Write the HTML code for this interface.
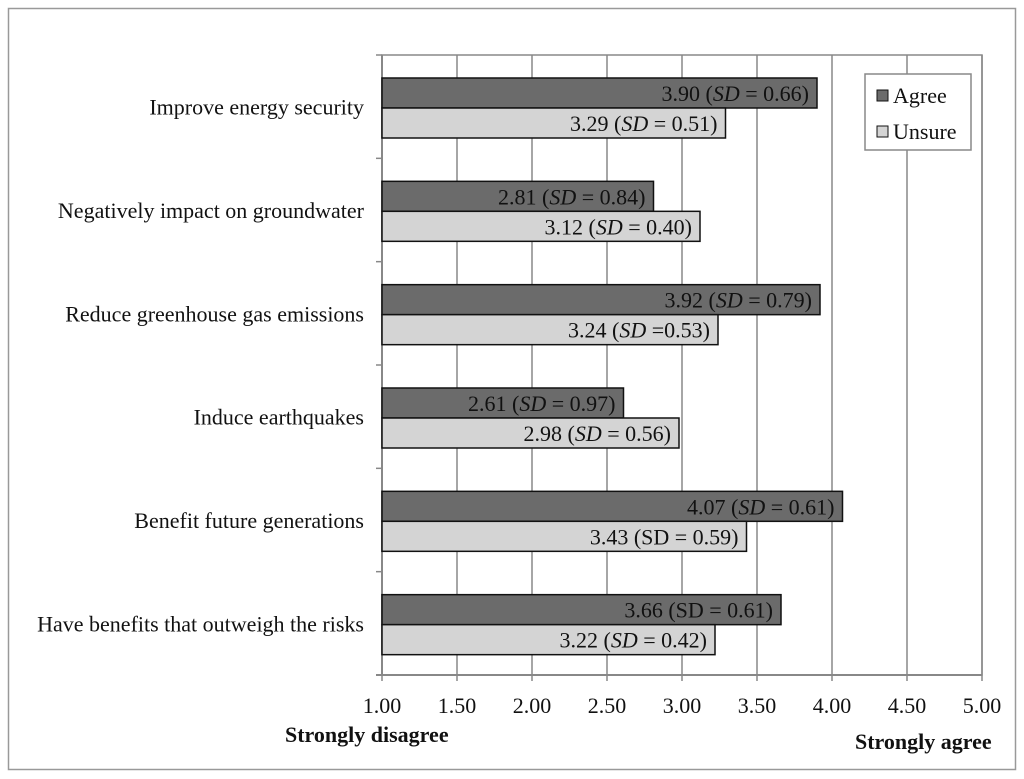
<!DOCTYPE html>
<html><head><meta charset="utf-8"><style>
html,body{margin:0;padding:0;background:#fff}
svg{display:block;font-family:"Liberation Serif",serif}
</style></head><body>
<svg id="c" width="1024" height="779" viewBox="0 0 1024 779">
<rect x="8.5" y="8.5" width="1007" height="761" fill="#fff" stroke="#999" stroke-width="1.5"/>
<g id="g"></g>
</svg>
<script>
const categories=["Improve energy security","Negatively impact on groundwater","Reduce greenhouse gas emissions","Induce earthquakes","Benefit future generations","Have benefits that outweigh the risks"];
const agreeValues=[3.90,2.81,3.92,2.61,4.07,3.66];
const unsureValues=[3.29,3.12,3.24,2.98,3.43,3.22];
const agreeSD=["= 0.66","= 0.84","= 0.79","= 0.97","= 0.61","= 0.61"];
const unsureSD=["= 0.51","= 0.40","=0.53","= 0.56","= 0.59","= 0.42"];
const agreeItalic=[true,true,true,true,true,false];
const unsureItalic=[true,true,true,true,false,true];
const ticks=[1,1.5,2,2.5,3,3.5,4,4.5,5];
const tickLabels=["1.00","1.50","2.00","2.50","3.00","3.50","4.00","4.50","5.00"];

const FS=22;
const X0=382,X1=982,Y0=55,Y1=675;
const x=v=>X0+(v-1)/(5-1)*(X1-X0);
const band=(Y1-Y0)/categories.length;
const y=i=>Y0+i*band;
const NS="http://www.w3.org/2000/svg";
const g=document.getElementById('g');
function el(t,a,p){const e=document.createElementNS(NS,t);for(const k in a)e.setAttribute(k,a[k]);(p||g).appendChild(e);return e;}

let f=el('rect',{x:X0,y:Y0,width:X1-X0,height:Y1-Y0,fill:'#fff',stroke:'#888','stroke-width':1.5});


ticks.forEach((t,i)=>{
  if(i>0){let l=el('line',{x1:x(t),x2:x(t),y1:Y0,y2:Y1,stroke:'#888','stroke-width':1.5});
  
  }
  let tk=el('line',{x1:x(t),x2:x(t),y1:Y1,y2:Y1+6,stroke:'#888','stroke-width':1.5});
  
  
  let tl=el('text',{x:x(t),y:Y1+38,'text-anchor':'middle','font-size':FS,fill:'#111'});
  tl.textContent=tickLabels[i];
  
  
});
for(let i=0;i<=categories.length;i++){
  let tk=el('line',{x1:X0-6,x2:X0,y1:y(i),y2:y(i),stroke:'#888','stroke-width':1.5});
  
  
}
let ax=el('line',{x1:X0-6,x2:X1,y1:Y1,y2:Y1,stroke:'#888','stroke-width':2});


let ay=el('line',{x1:X0,x2:X0,y1:Y0,y2:Y1,stroke:'#888','stroke-width':2});



function label(val,sd,it,xe,yc){
  const t=el('text',{x:xe-8,y:yc+8,'text-anchor':'end','font-size':FS,fill:'#111'});
  const a=el('tspan',{},t);a.textContent=val.toFixed(2)+" (";
  const b=el('tspan',{'font-style':it?'italic':'normal'},t);b.textContent="SD";
  const c=el('tspan',{},t);c.textContent=" "+sd+")";
  return t;
}
categories.forEach((c,i)=>{
  const top=y(i)+23,h=30;
  let ct=el('text',{x:364,y:y(i)+band/2+8,'text-anchor':'end','font-size':FS,fill:'#111'});
  ct.textContent=c;
  
  
  let b1=el('rect',{x:X0,y:top,width:x(agreeValues[i])-X0,height:h,fill:'#6b6b6b',stroke:'#111','stroke-width':1.5});
  
  
  let b2=el('rect',{x:X0,y:top+h,width:x(unsureValues[i])-X0,height:h,fill:'#d4d4d4',stroke:'#111','stroke-width':1.5});
  
  
  let l1=label(agreeValues[i],agreeSD[i],agreeItalic[i],x(agreeValues[i]),top+h/2);
  
  
  let l2=label(unsureValues[i],unsureSD[i],unsureItalic[i],x(unsureValues[i]),top+h*1.5);
  
  
});
let lg=el('g',{});


el('rect',{x:865,y:74,width:106,height:76,fill:'#fff',stroke:'#888','stroke-width':1.5},lg);
let e1=el('g',{},lg);


el('rect',{x:877,y:90,width:11,height:11,fill:'#6b6b6b',stroke:'#111','stroke-width':1},e1);
let t1=el('text',{x:893,y:103,'font-size':FS,fill:'#111'},e1);t1.textContent="Agree";
let e2=el('g',{},lg);


el('rect',{x:877,y:126,width:11,height:11,fill:'#d4d4d4',stroke:'#111','stroke-width':1},e2);
let t2=el('text',{x:893,y:139,'font-size':FS,fill:'#111'},e2);t2.textContent="Unsure";
let a1=el('text',{x:285,y:742,'font-size':FS,'font-weight':'bold',fill:'#111'});
a1.textContent="Strongly disagree";


let a2=el('text',{x:855,y:749,'font-size':FS,'font-weight':'bold',fill:'#111'});
a2.textContent="Strongly agree";


</script>
</body></html>
